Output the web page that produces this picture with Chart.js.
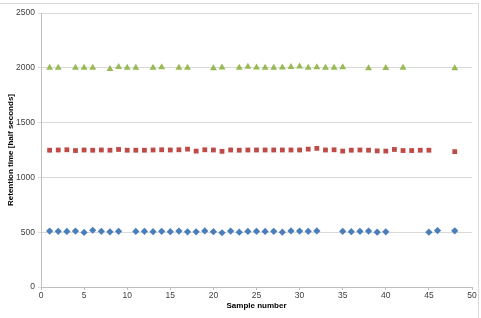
<!DOCTYPE html>
<html lang="en">
<head>
<meta charset="UTF-8">
<title>Retention time</title>
<script src="https://cdn.jsdelivr.net/npm/chart.js"></script>
<style>
    body { margin: 0; background: #fff; }
    .frame {
        position: absolute; left: 0; top: 3px; width: 478px; height: 315px;
        border-top: 1px solid #d9d9d9; border-right: 1px solid #d9d9d9;
    }
    canvas { position: absolute; left: 0; top: 0; }
</style>
</head>
<body>
<div class="frame"></div>
<canvas id="grafico" width="481" height="318"></canvas>
<script>
// dados
var amostrasAzul = [1,2,3,4,5,6,7,8,9,11,12,13,14,15,16,17,18,19,20,21,22,23,24,25,26,27,28,29,30,31,32,35,36,37,38,39,40,45,46,48];
var valoresAzul = [510,508,507,510,498,518,508,503,508,507,508,505,508,505,510,503,503,512,505,495,510,500,507,508,507,508,500,512,510,508,512,508,505,508,510,500,503,500,515,513];

var amostrasVermelho = [1,2,3,4,5,6,7,8,9,10,11,12,13,14,15,16,17,18,19,20,21,22,23,24,25,26,27,28,29,30,31,32,33,34,35,36,37,38,39,40,41,42,43,44,45,48];
var valoresVermelho = [1248,1250,1252,1245,1250,1248,1250,1248,1255,1248,1248,1248,1250,1252,1250,1252,1258,1240,1252,1250,1238,1250,1248,1250,1250,1250,1250,1250,1250,1250,1258,1265,1250,1252,1240,1248,1250,1248,1242,1240,1255,1245,1245,1248,1248,1235];

var amostrasVerde = [1,2,4,5,6,8,9,10,11,13,14,16,17,20,21,23,24,25,26,27,28,29,30,31,32,33,34,35,38,40,42,48];
var valoresVerde = [2000,2000,2000,2000,2000,1990,2008,2000,2000,2000,2005,2000,2000,1995,2002,2000,2010,2002,2000,2000,2002,2008,2012,2000,2005,2000,2000,2005,1995,1998,2000,1995];

var ticksY = [0, 500, 1000, 1500, 2000, 2500];

function pares(xs, ys) {
    var lista = [];
    for (var i = 0; i < xs.length; i++) {
        lista.push({ x: xs[i], y: ys[i] });
    }
    return lista;
}

var fonte = { family: 'Liberation Sans, Arial, sans-serif', size: 8.5 };
var fonteTitulo = { family: 'Liberation Sans, Arial, sans-serif', size: 8, weight: 'bold' };

var ctx = document.getElementById('grafico').getContext('2d');
var myChart = new Chart(ctx, {
    type: 'scatter',
    data: {
        datasets: [{
            label: 'Azul',
            data: pares(amostrasAzul, valoresAzul),
            pointStyle: 'rectRot',
            pointRadius: 3.6,
            backgroundColor: '#4a7ebb',
            borderColor: '#4a7ebb',
            borderWidth: 0
        }, {
            label: 'Vermelho',
            data: pares(amostrasVermelho, valoresVermelho),
            pointStyle: 'rect',
            pointRadius: 3.4,
            backgroundColor: '#be4b48',
            borderColor: '#be4b48',
            borderWidth: 0
        }, {
            label: 'Verde',
            data: pares(amostrasVerde, valoresVerde),
            pointStyle: 'triangle',
            pointRadius: 4,
            backgroundColor: '#98b954',
            borderColor: '#98b954',
            borderWidth: 0
        }]
    },
    options: {
        responsive: false,
        animation: false,
        layout: { padding: { top: 13, right: 9, left: 0, bottom: 0 } },
        plugins: {
            legend: { display: false },
            tooltip: { enabled: false }
        },
        scales: {
            x: {
                type: 'linear',
                min: 0,
                max: 50,
                ticks: { stepSize: 5, color: '#404040', font: fonte, padding: 1, maxRotation: 0 },
                grid: { drawOnChartArea: false, drawTicks: true, tickLength: 3, color: '#bfbfbf' },
                border: { color: '#bfbfbf' },
                title: {
                    display: true,
                    text: 'Sample number',
                    color: '#000',
                    font: fonteTitulo,
                    padding: { top: 0, bottom: 7 }
                },
                afterFit: function (escala) { escala.height = 31; }
            },
            y: {
                min: 0,
                max: 2500,
                afterBuildTicks: function (escala) {
                    escala.ticks = ticksY.map(function (v) { return { value: v }; });
                },
                ticks: {
                    color: '#404040', font: fonte, padding: 3,
                    callback: function (v) { return String(v); }
                },
                grid: { color: '#d9d9d9', tickLength: 3, drawTicks: true },
                border: { color: '#bfbfbf' },
                title: {
                    display: true,
                    text: 'Retention time [half seconds]',
                    color: '#000',
                    font: fonteTitulo,
                    padding: { top: 6, bottom: 0 }
                },
                afterFit: function (escala) { escala.width = 41; }
            }
        }
    }
});
</script>
</body>
</html>
